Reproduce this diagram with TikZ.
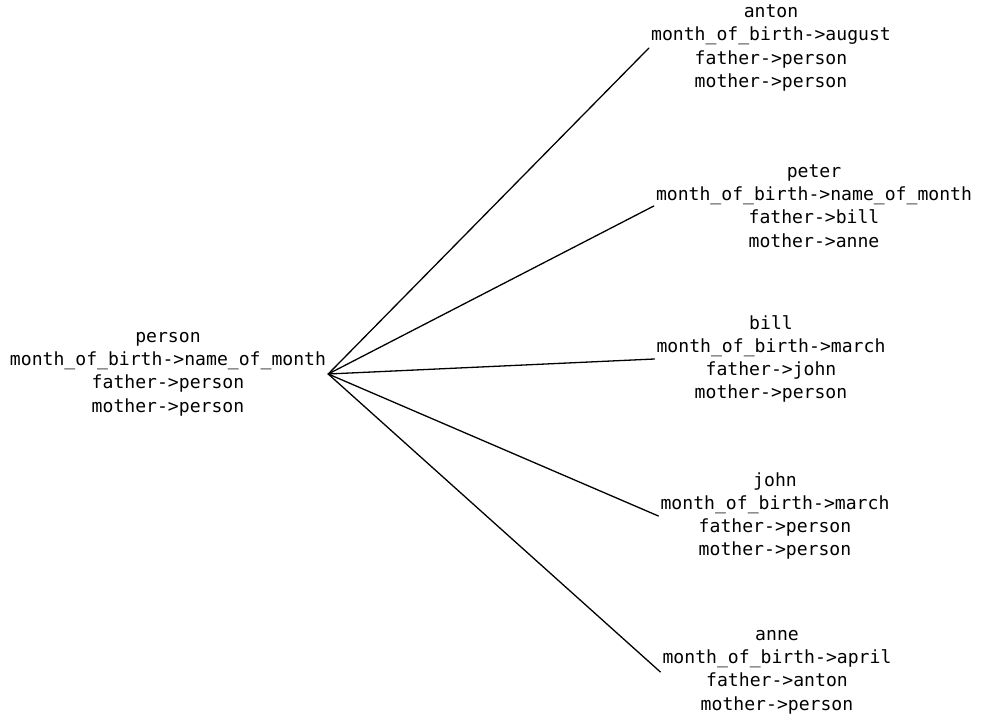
\documentclass[tikz,border=0pt]{standalone}
\usepackage{fontspec}
\setmonofont{DejaVu Sans Mono}
\begin{document}
\begin{tikzpicture}[x=1pt,y=-1pt]
\tikzset{
  rec/.style={align=center, font=\ttfamily\fontsize{18.1}{23.3}\selectfont, inner sep=2pt},
  link/.style={line width=1.3pt, line cap=round}
}
\useasboundingbox (0,0) rectangle (982,719);
\node[rec] (person) at (168,374) {person\\month\_of\_birth->name\_of\_month\\father->person\\mother->person};
\node[rec] (anton) at (771,48) {anton\\month\_of\_birth->august\\father->person\\mother->person};
\node[rec] (peter) at (814,206) {peter\\month\_of\_birth->name\_of\_month\\father->bill\\mother->anne};
\node[rec] (bill) at (771,359) {bill\\month\_of\_birth->march\\father->john\\mother->person};
\node[rec] (john) at (775,516) {john\\month\_of\_birth->march\\father->person\\mother->person};
\node[rec] (anne) at (777,672) {anne\\month\_of\_birth->april\\father->anton\\mother->person};
\foreach \n in {anton,peter,bill,john,anne}
  \draw[link] (person.east) -- (\n.west);
\end{tikzpicture}
\end{document}
